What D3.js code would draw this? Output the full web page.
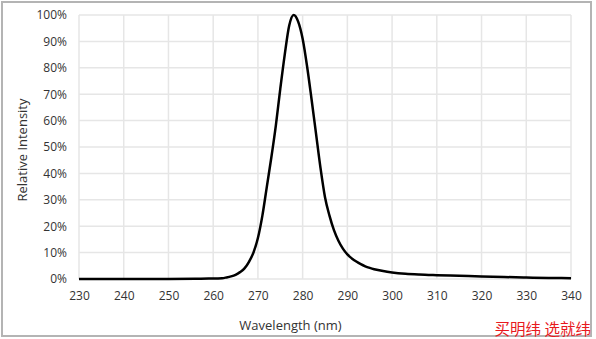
<!DOCTYPE html>
<html><head><meta charset="utf-8">
<script src="https://cdn.jsdelivr.net/npm/d3@7"></script>
<style>body{margin:0;background:#fff}svg{display:block}</style>
</head><body>
<svg id="c" width="596" height="339"></svg>
<script>
const wavelength = [230,240,250,256,259,262,263,264,265,266,267,268,269,270,271,272,273,274,275,276,277,278,279,280,281,282,283,284,285,286,287,288,289,290,291,292,293,294,295,296,298,300,303,306,310,315,320,325,330,335,340];
const intensity  = [0,0,0,0.05,0.15,0.3,0.6,1.0,1.6,2.6,4.0,6.5,10,15.5,24,35,46,58,72,85,96,100,97.5,91,80.5,68,55,42,31,24,18.5,14.5,11.5,9.3,7.8,6.6,5.6,4.8,4.2,3.7,3.0,2.5,2.0,1.7,1.45,1.2,0.95,0.75,0.55,0.4,0.3];
const xTicks = [230,240,250,260,270,280,290,300,310,320,330,340];
const yTicks = [0,10,20,30,40,50,60,70,80,90,100];
const xTitle = "Wavelength (nm)";
const yTitle = "Relative Intensity";
const watermark = "买明纬 选就纬";

const svg = d3.select("#c");
const x = d3.scaleLinear().domain([230,340]).range([79,571]);
const y = d3.scaleLinear().domain([0,100]).range([279,15]);

svg.append("rect").attr("x",2).attr("y",2).attr("width",589).attr("height",334)
  .attr("fill","none").attr("stroke","#b4b4b4").attr("stroke-width",2);

const grid = svg.append("g");
grid.selectAll("line.v").data(xTicks).join("line")
  .attr("x1",d=>x(d)).attr("x2",d=>x(d)).attr("y1",y(0)).attr("y2",y(100))
  .attr("stroke","#e6e6e6").attr("stroke-width",1.5);
grid.selectAll("line.h").data(yTicks).join("line")
  .attr("y1",d=>y(d)).attr("y2",d=>y(d)).attr("x1",x(230)).attr("x2",x(340))
  .attr("stroke","#e6e6e6").attr("stroke-width",1.5);

const font = "'Open Sans', sans-serif";
const xAxis = svg.append("g").attr("transform",`translate(0,${y(0)})`)
  .call(d3.axisBottom(x).tickValues(xTicks).tickSize(0).tickPadding(12).tickFormat(d3.format("d")));
xAxis.select(".domain").remove();
xAxis.selectAll("text").attr("font-family",font).attr("font-size",12).attr("fill","#333");

const yAxis = svg.append("g").attr("transform",`translate(${x(230)},0)`)
  .call(d3.axisLeft(y).tickValues(yTicks).tickSize(0).tickPadding(12).tickFormat(d=>d+"%"));
yAxis.select(".domain").remove();
yAxis.selectAll("text").attr("font-family",font).attr("font-size",12).attr("fill","#333");

const pts = wavelength.map((w,i)=>[w,intensity[i]]);
svg.append("path").datum(pts)
  .attr("d", d3.line().x(d=>x(d[0])).y(d=>y(d[1])).curve(d3.curveMonotoneX))
  .attr("fill","none").attr("stroke","#000").attr("stroke-width",2.5).attr("stroke-linejoin","round");

svg.append("text").attr("x",290.5).attr("y",330).attr("text-anchor","middle")
  .attr("font-family",font).attr("font-size",13).attr("fill","#333").text(xTitle);
svg.append("text").attr("transform","translate(27,150) rotate(-90)").attr("text-anchor","middle")
  .attr("font-family",font).attr("font-size",13).attr("fill","#333").text(yTitle);

svg.append("text").attr("x",591).attr("y",335).attr("text-anchor","end")
  .attr("font-family","'Noto Sans CJK SC', sans-serif").attr("font-size",15.5).attr("fill","#e8191e").text(watermark);
</script>
</body></html>
